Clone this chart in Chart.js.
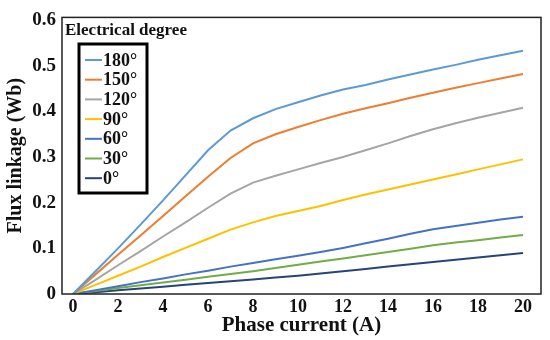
<!DOCTYPE html>
<html lang="en">
<head>
    <meta charset="UTF-8">
    <title>Flux linkage</title>
    <script src="https://cdn.jsdelivr.net/npm/chart.js"></script>
    <style>
        body { margin: 0; background: #ffffff; }
        #wrap { width: 550px; height: 340px; }
    </style>
</head>
<body>
    <div id="wrap"><canvas id="myChart" width="550" height="340"></canvas></div>
    <script>
        // phase current (A)
        const current = [0, 1, 2, 3, 4, 5, 6, 7, 8, 9, 10, 11, 12, 13, 14, 15, 16, 17, 18, 19, 20];

        // flux linkage (Wb) for each electrical degree
        const deg180 = [0, 0.05, 0.10, 0.152, 0.205, 0.26, 0.315, 0.358, 0.385, 0.405, 0.42, 0.435, 0.448, 0.458, 0.47, 0.481, 0.492, 0.502, 0.513, 0.523, 0.533];
        const deg150 = [0, 0.043, 0.086, 0.128, 0.171, 0.214, 0.257, 0.298, 0.33, 0.35, 0.366, 0.381, 0.395, 0.407, 0.418, 0.43, 0.441, 0.452, 0.462, 0.472, 0.482];
        const deg120 = [0, 0.031, 0.063, 0.094, 0.126, 0.157, 0.189, 0.22, 0.244, 0.259, 0.273, 0.287, 0.30, 0.315, 0.33, 0.346, 0.361, 0.374, 0.386, 0.397, 0.408];
        const deg90 = [0, 0.02, 0.04, 0.06, 0.081, 0.101, 0.121, 0.141, 0.157, 0.171, 0.182, 0.193, 0.206, 0.218, 0.229, 0.24, 0.251, 0.262, 0.273, 0.284, 0.295];
        const deg60 = [0, 0.0085, 0.017, 0.026, 0.034, 0.043, 0.051, 0.06, 0.068, 0.076, 0.084, 0.092, 0.101, 0.111, 0.121, 0.132, 0.142, 0.149, 0.156, 0.163, 0.169];
        const deg30 = [0, 0.0065, 0.013, 0.019, 0.025, 0.031, 0.038, 0.044, 0.05, 0.057, 0.064, 0.071, 0.078, 0.085, 0.092, 0.099, 0.107, 0.113, 0.118, 0.124, 0.129];
        const deg0 = [0, 0.004, 0.008, 0.012, 0.016, 0.02, 0.024, 0.028, 0.032, 0.036, 0.04, 0.045, 0.05, 0.055, 0.06, 0.065, 0.07, 0.075, 0.08, 0.085, 0.09];

        const seriesLabels = ['180°', '150°', '120°', '90°', '60°', '30°', '0°'];
        const seriesValues = [deg180, deg150, deg120, deg90, deg60, deg30, deg0];
        const seriesColors = ['#5B9BD5', '#ED7D31', '#A5A5A5', '#FFC000', '#4472C4', '#70AD47', '#264478'];

        const xTicks = [0, 2, 4, 6, 8, 10, 12, 14, 16, 18, 20];
        const yTicks = [0, 0.1, 0.2, 0.3, 0.4, 0.5, 0.6];

        const serif = '"Liberation Serif", "Times New Roman", serif';

        // frame around the plot + boxed legend like the original figure
        const framePlugin = {
            id: 'frame',
            afterDraw(chart) {
                const ctx = chart.ctx;
                const a = chart.chartArea;
                ctx.save();
                ctx.strokeStyle = '#222';
                ctx.lineWidth = 1.5;
                ctx.strokeRect(a.left, a.top, a.right - a.left, a.bottom - a.top);

                // legend title
                ctx.fillStyle = '#111';
                ctx.font = 'bold 17px ' + serif;
                ctx.textBaseline = 'middle';
                ctx.textAlign = 'left';
                ctx.fillText('Electrical degree', 65, 31);

                // legend box
                ctx.lineWidth = 3;
                ctx.strokeStyle = '#000';
                ctx.strokeRect(79, 44, 68, 149);

                ctx.font = 'bold 18px ' + serif;
                chart.data.datasets.forEach(function (ds, i) {
                    const y = 60 + i * 19.7;
                    ctx.strokeStyle = ds.borderColor;
                    ctx.lineWidth = 2;
                    ctx.beginPath();
                    ctx.moveTo(85, y);
                    ctx.lineTo(102, y);
                    ctx.stroke();
                    ctx.fillStyle = '#111';
                    ctx.fillText(ds.label, 103, y + 1);
                });
                ctx.restore();
            }
        };

        const datasets = seriesLabels.map(function (lab, i) {
            return {
                label: lab,
                data: current.map(function (c, j) { return { x: c, y: seriesValues[i][j] }; }),
                borderColor: seriesColors[i],
                backgroundColor: seriesColors[i],
                borderWidth: 2,
                pointRadius: 0,
                tension: 0,
                fill: false
            };
        });

        const config = {
            type: 'line',
            data: { datasets: datasets },
            options: {
                responsive: false,
                animation: false,
                layout: { padding: { top: 11, right: 9, left: 0, bottom: 0 } },
                plugins: {
                    legend: { display: false },
                    tooltip: { enabled: false }
                },
                scales: {
                    x: {
                        type: 'linear',
                        min: -0.49,
                        max: 20.8,
                        afterBuildTicks: function (scale) {
                            scale.ticks = xTicks.map(function (v) { return { value: v }; });
                        },
                        afterFit: function (scale) { scale.height = 46; },
                        grid: { display: false, drawTicks: false },
                        border: { display: false },
                        ticks: {
                            color: '#111',
                            padding: 3,
                            maxRotation: 0,
                            font: { family: serif, size: 18, weight: 'bold' }
                        },
                        title: {
                            display: true,
                            text: 'Phase current (A)',
                            color: '#111',
                            padding: { top: 0, bottom: 2 },
                            font: { family: serif, size: 21, weight: 'bold' }
                        }
                    },
                    y: {
                        min: 0,
                        max: 0.606,
                        afterBuildTicks: function (scale) {
                            scale.ticks = yTicks.map(function (v) { return { value: v }; });
                        },
                        afterFit: function (scale) { scale.width = 62; },
                        grid: { display: false, drawTicks: false },
                        border: { display: false },
                        ticks: {
                            color: '#111',
                            padding: 6,
                            font: { family: serif, size: 19, weight: 'bold' },
                            callback: function (v) { return v === 0 ? '0' : v.toFixed(1); }
                        },
                        title: {
                            display: true,
                            text: 'Flux linkage (Wb)',
                            color: '#111',
                            padding: { top: 4, bottom: 0 },
                            font: { family: serif, size: 20, weight: 'bold' }
                        }
                    }
                }
            },
            plugins: [framePlugin]
        };

        var myChart = new Chart(document.getElementById('myChart'), config);
    </script>
</body>
</html>
